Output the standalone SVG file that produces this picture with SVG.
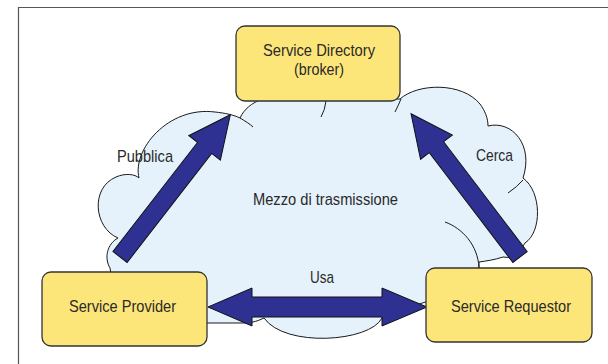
<svg xmlns="http://www.w3.org/2000/svg" width="608" height="364" viewBox="0 0 608 364">
  <style>
    .frame { fill: none; stroke: #555555; stroke-width: 1.2; }
    .cloud { fill: #e5f2fb; stroke: #1a1a1a; stroke-width: 1; stroke-linejoin: round; }
    .cline { fill: none; stroke: #1a1a1a; stroke-width: 1; }
    .box { fill: #fde679; stroke: #333333; stroke-width: 1.3; }
    .arrow { fill: #2e3192; stroke: #111111; stroke-width: 1; stroke-linejoin: miter; }
    text { font-family: "Liberation Sans Narrow", "Liberation Sans", Arial, sans-serif; font-size: 17px; fill: #2a2a2a; text-anchor: middle; }
    .sm { font-size: 16px; }
  </style>
  <defs>
    <polygon id="blockArrow" points="0,-9 138,-9 138,-20 180,0 138,20 138,9 0,9"/>
  </defs>

  <path class="frame" d="M 18.5,364 L 18.5,7.5 L 608,7.5"/>

  <g id="cloud">
    <path class="cloud" d="M 112,280 L 110,268 C 104,258 107,244 118,238 C 94,228 90,188 116,177 C 125,173 135,174 139,178 C 132,150 168,106 215,112 C 225,113 234,115 240,118 C 244,109 252,103 262,99 L 400,99 C 418,83 462,82 480,104 C 485,111 488,118 488,126 C 512,120 534,145 523,178 C 542,192 542,232 525,243 L 515,258 L 503,257 C 494,260 486,261 479,262 L 479,272 L 432,300 L 400,310 L 382,318 C 370,342 285,348 264,318 C 256,322 250,323 242,323 L 207,323 L 200,320 Z"/>
    <path class="cline" d="M 240,118 C 245,121 250,124 253,127"/>
    <path class="cline" d="M 326,101 Q 325,110 321,117"/>
    <path class="cline" d="M 401,99 Q 398,106 395,112"/>
    <path class="cline" d="M 508,193 Q 517,187 523,180"/>
    <path class="cline" d="M 445,222 C 462,228 478,245 479,268"/>
    <text x="325.5" y="205" textLength="145" lengthAdjust="spacingAndGlyphs">Mezzo di trasmissione</text>
  </g>

  <g id="connectors">
    <use href="#blockArrow" class="arrow" transform="translate(120,257) rotate(-52.2)"/>
    <use href="#blockArrow" class="arrow" transform="translate(520,257) rotate(-127.25)"/>
    <polygon class="arrow" points="208,307 252,288 252,297 382,297 382,288 427,307 382,326 382,317 252,317 252,326"/>
    <text x="145" y="162" textLength="56" lengthAdjust="spacingAndGlyphs">Pubblica</text>
    <text x="494.5" y="161" textLength="37" lengthAdjust="spacingAndGlyphs">Cerca</text>
    <text x="322" y="283" textLength="24" lengthAdjust="spacingAndGlyphs">Usa</text>
  </g>

  <g id="directory">
    <rect class="box" x="236" y="26" width="164" height="75" rx="9"/>
    <text class="sm" x="319" y="56" textLength="112" lengthAdjust="spacingAndGlyphs">Service Directory</text>
    <text class="sm" x="319" y="75" textLength="50" lengthAdjust="spacingAndGlyphs">(broker)</text>
  </g>

  <g id="provider">
    <rect class="box" x="42" y="272" width="165" height="74" rx="9"/>
    <text x="122.5" y="312" textLength="107" lengthAdjust="spacingAndGlyphs">Service Provider</text>
  </g>

  <g id="requestor">
    <rect class="box" x="426" y="268" width="166" height="74" rx="9"/>
    <text x="511" y="312" textLength="120" lengthAdjust="spacingAndGlyphs">Service Requestor</text>
  </g>
</svg>
